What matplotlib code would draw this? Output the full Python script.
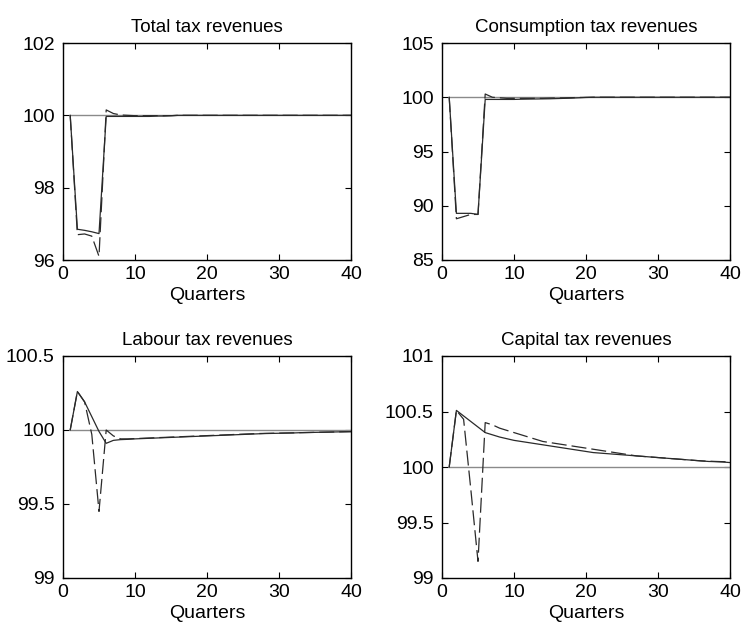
import numpy as np
import matplotlib.pyplot as plt

plt.rcParams['font.family'] = ['Liberation Sans', 'DejaVu Sans']

quarters = np.arange(1, 41)

# Total tax revenues
total_solid = [100, 96.85, 96.82, 96.78, 96.73, 99.97, 99.97, 99.97, 99.97, 99.97,
               99.97, 99.97, 99.98, 99.98, 99.99] + [100.0] * 25
total_dash = [100, 96.70, 96.72, 96.66, 96.10, 100.15, 100.05, 100.01, 100.0, 99.99,
              99.99, 99.99, 99.99, 99.99, 99.99] + [100.0] * 25

# Consumption tax revenues
cons_solid = [100, 89.3, 89.3, 89.3, 89.2, 99.8, 99.8, 99.8, 99.8, 99.8,
              99.82, 99.83, 99.84, 99.85, 99.86, 99.88, 99.9, 99.92, 99.95, 99.98] + [100.0] * 20
cons_dash = [100, 88.8, 89.0, 89.2, 89.2, 100.3, 100.0, 99.95, 99.9, 99.9,
             99.9, 99.9, 99.9, 99.9, 99.92, 99.93, 99.94, 99.96, 99.98, 99.99] + [100.0] * 20

# Labour tax revenues
lab_solid = [100, 100.26, 100.19, 100.09, 99.99, 99.91, 99.93, 99.935, 99.937, 99.94,
             99.942, 99.944, 99.946, 99.948, 99.95, 99.952, 99.954, 99.956, 99.958, 99.96,
             99.962, 99.964, 99.966, 99.968, 99.97, 99.972, 99.974, 99.976, 99.977, 99.978,
             99.979, 99.98, 99.982, 99.983, 99.984, 99.985, 99.986, 99.987, 99.988, 99.989]
lab_dash = [100, 100.26, 100.19, 99.97, 99.45, 100.0, 99.96, 99.94, 99.94, 99.942,
            99.944, 99.946, 99.948, 99.95, 99.952, 99.954, 99.956, 99.958, 99.96, 99.962,
            99.964, 99.966, 99.968, 99.97, 99.972, 99.974, 99.976, 99.977, 99.978, 99.979,
            99.98, 99.981, 99.982, 99.983, 99.984, 99.985, 99.986, 99.987, 99.988, 99.989]

# Capital tax revenues
cap_solid = [100, 100.51, 100.46, 100.41, 100.36, 100.31, 100.29, 100.27, 100.255, 100.24,
             100.23, 100.22, 100.21, 100.20, 100.19, 100.18, 100.17, 100.16, 100.15, 100.14,
             100.13, 100.125, 100.12, 100.115, 100.11, 100.105, 100.10, 100.095, 100.09, 100.085,
             100.08, 100.075, 100.07, 100.065, 100.06, 100.055, 100.05, 100.048, 100.045, 100.04]
cap_dash = [100, 100.51, 100.43, 99.80, 99.15, 100.40, 100.38, 100.35, 100.33, 100.31,
            100.29, 100.27, 100.25, 100.23, 100.22, 100.21, 100.20, 100.19, 100.18, 100.17,
            100.16, 100.15, 100.14, 100.13, 100.12, 100.11, 100.10, 100.095, 100.09, 100.085,
            100.08, 100.075, 100.07, 100.065, 100.06, 100.055, 100.052, 100.05, 100.048, 100.045]

panels = [
    ("Total tax revenues", total_solid, total_dash, (96, 102), [96, 98, 100, 102], ["96", "98", "100", "102"]),
    ("Consumption tax revenues", cons_solid, cons_dash, (85, 105), [85, 90, 95, 100, 105], ["85", "90", "95", "100", "105"]),
    ("Labour tax revenues", lab_solid, lab_dash, (99, 100.5), [99, 99.5, 100, 100.5], ["99", "99.5", "100", "100.5"]),
    ("Capital tax revenues", cap_solid, cap_dash, (99, 101), [99, 99.5, 100, 100.5, 101], ["99", "99.5", "100", "100.5", "101"]),
]

fig = plt.figure(figsize=(7.42, 6.26), dpi=100)
W, H = 742, 626
boxes = [(63, 43, 351, 260), (442, 43, 730, 260), (63, 356, 351, 578), (442, 356, 730, 578)]

for (title, solid, dash, ylim, yt, ytl), (x0, y0, x1, y1) in zip(panels, boxes):
    ax = fig.add_axes([x0 / W, 1 - y1 / H, (x1 - x0) / W, (y1 - y0) / H])
    ax.plot(quarters, [100] * len(quarters), color="#8a8a8a", lw=1.0)
    ax.plot(quarters, solid, color="#2a2a2a", lw=0.9)
    ax.plot(quarters, dash, color="#2a2a2a", lw=0.9, dashes=(12, 4))
    ax.set_xlim(0, 40)
    ax.set_ylim(*ylim)
    ax.set_xticks([0, 10, 20, 30, 40])
    ax.set_yticks(yt)
    ax.set_yticklabels(ytl)
    ax.tick_params(direction="in", top=True, right=True, labelsize=14, length=4)
    ax.tick_params(axis="x", pad=4)
    ax.tick_params(axis="y", pad=6)
    ax.set_title(title, fontsize=13.5, pad=8)
    ax.set_xlabel("Quarters", fontsize=14, labelpad=3)
    for s in ax.spines.values():
        s.set_linewidth(1.0)

fig.savefig("out.png", dpi=100)
